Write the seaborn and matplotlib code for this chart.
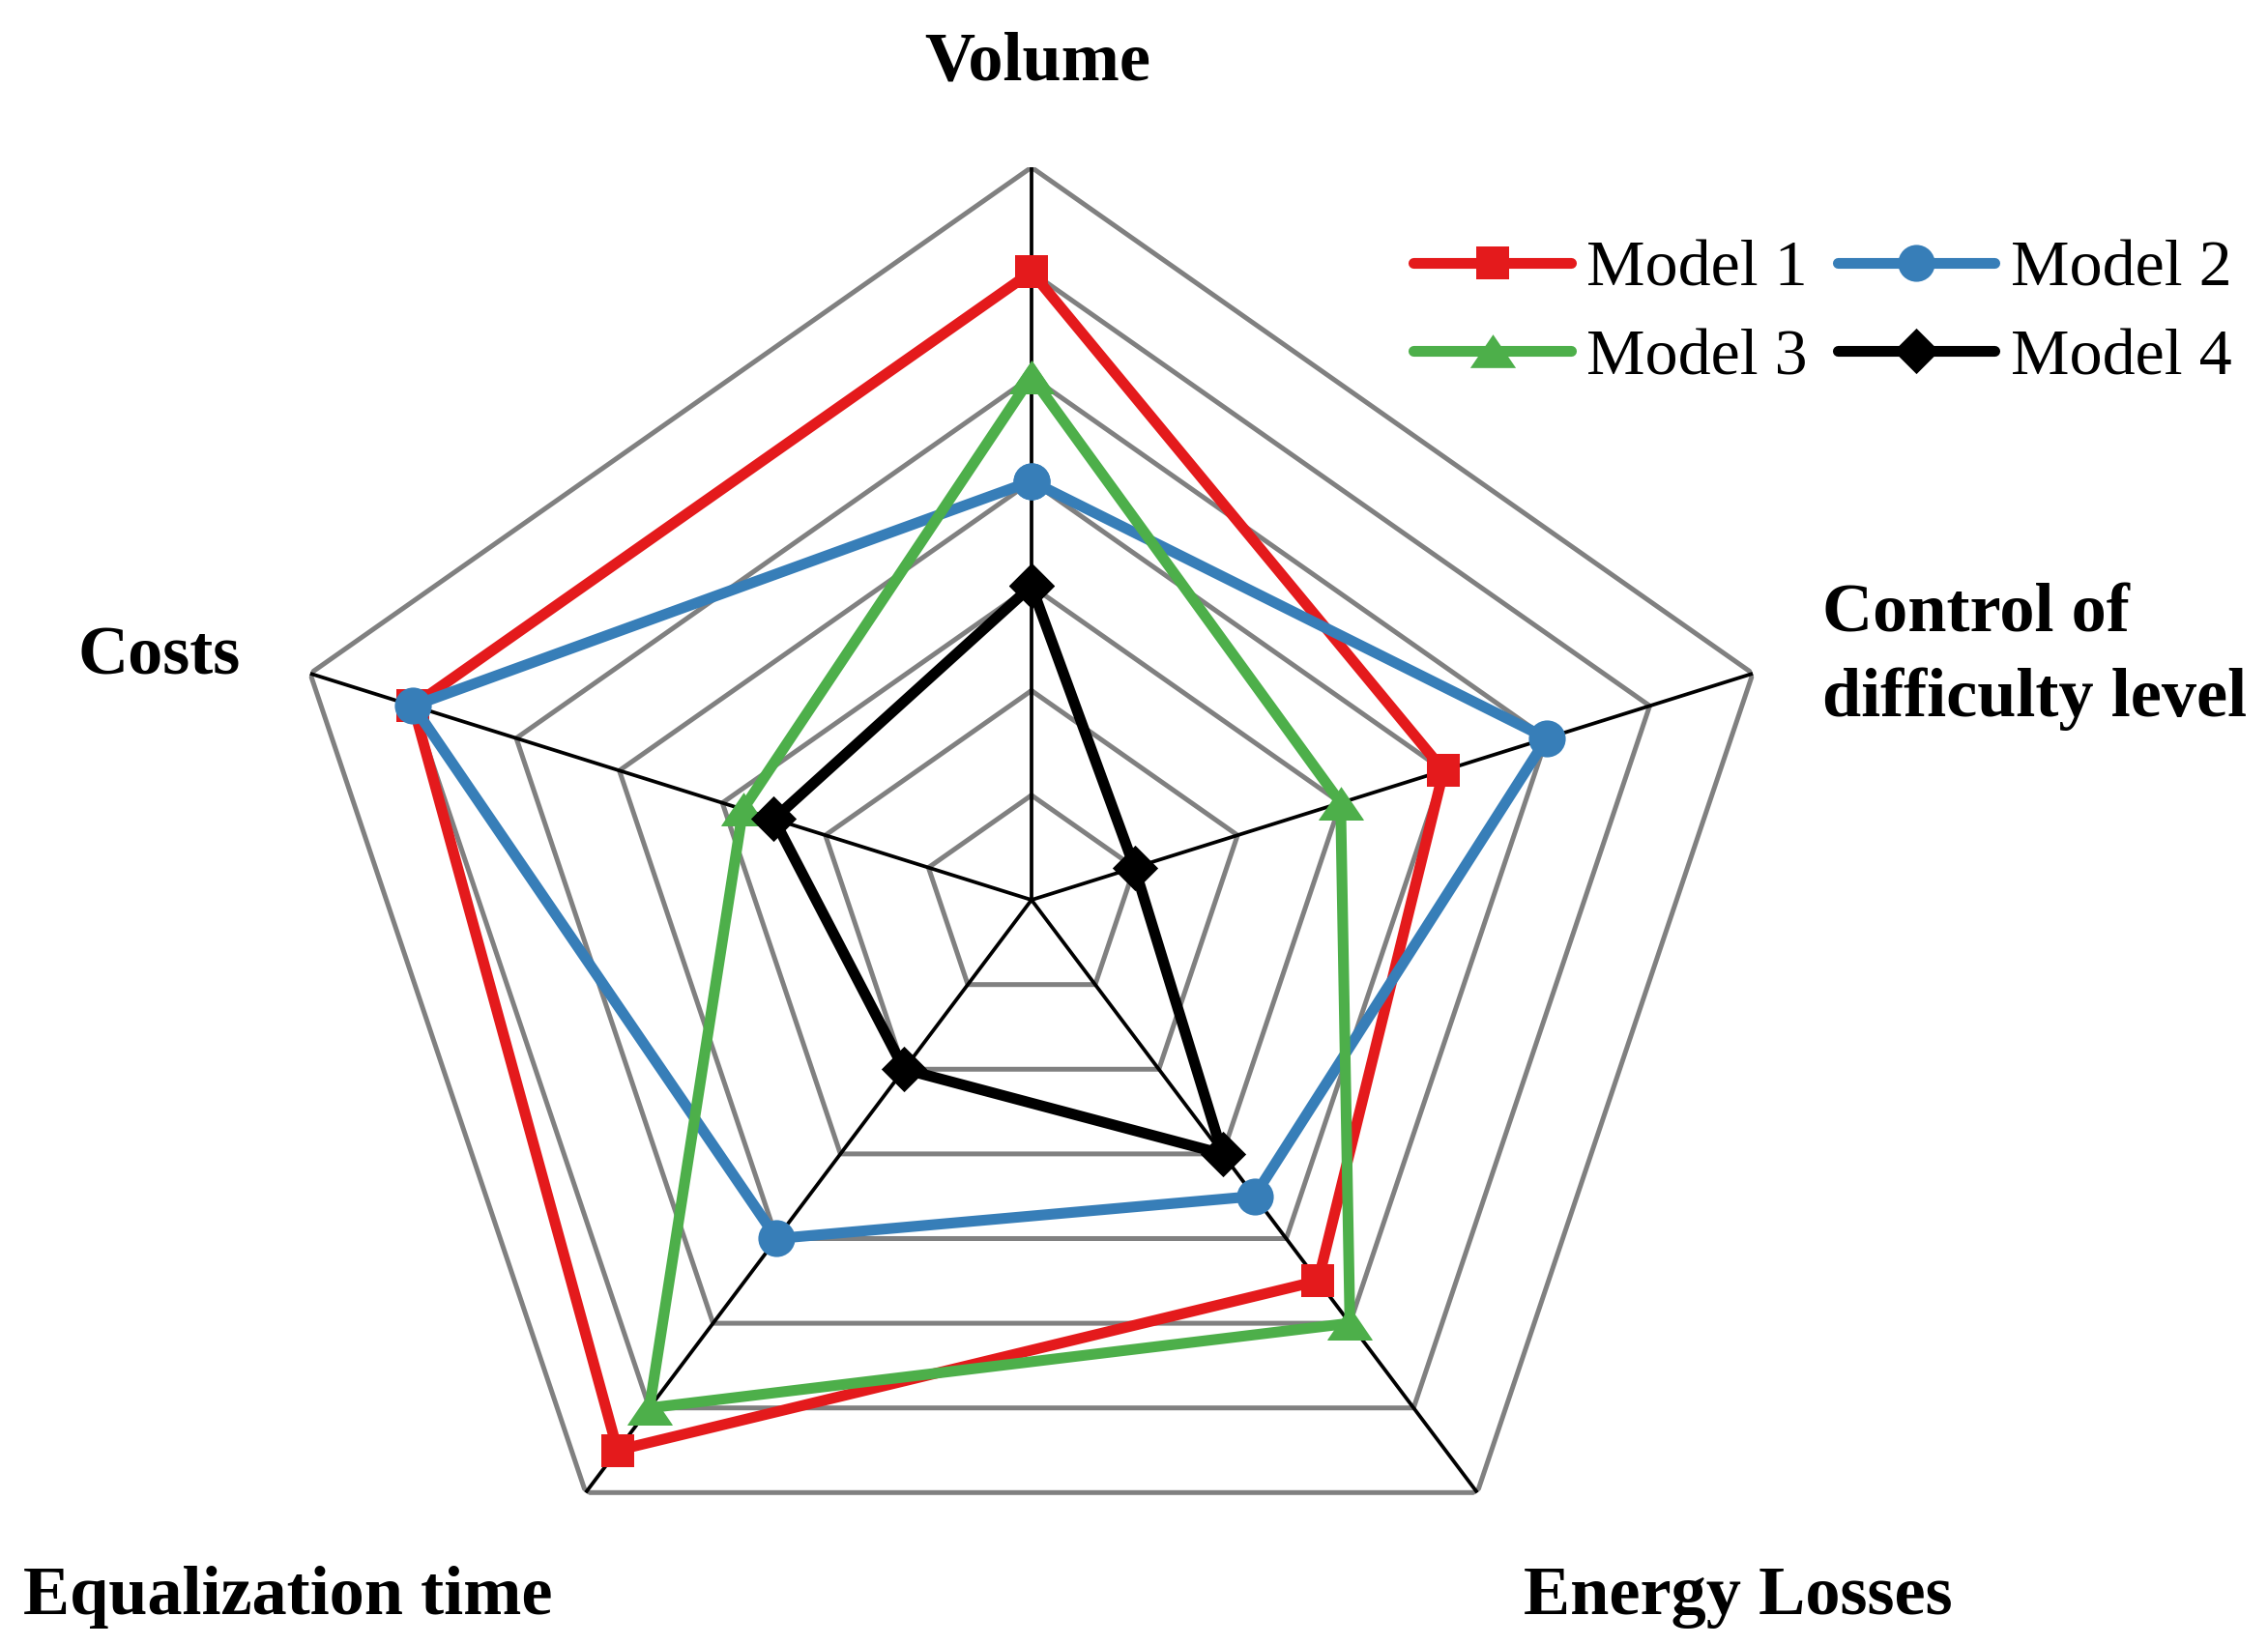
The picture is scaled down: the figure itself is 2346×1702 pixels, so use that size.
import numpy as np
import pandas as pd
import matplotlib
matplotlib.use("Agg")
import matplotlib.pyplot as plt
import seaborn as sns

# ---------------- data ----------------
categories = ["Volume", "Control of difficulty level", "Energy Losses",
              "Equalization time", "Costs"]
models = ["Model 1", "Model 2", "Model 3", "Model 4"]
model1 = [6, 4, 4.5, 6.5, 6]
model2 = [4, 5, 3.5, 4, 6]
model3 = [5, 3, 5, 6, 2.8]
model4 = [3, 1, 3, 2, 2.5]
grid_levels = [1, 2, 3, 4, 5, 6, 7]

series = [model1, model2, model3, model4]
colors = ["#E41A1C", "#377EB8", "#4DAF4A", "#000000"]
tri = [(-22.5, -16.5), (22.5, -16.5), (0, 16.5)]
dia = [(0, 1), (1, 0), (0, -1), (-1, 0)]
markers = ["s", "o", tri, dia]
msizes = [25, 27.5, 34, 34]

sns.set_theme(style="white")
plt.rcParams['font.family'] = ['Liberation Serif', 'DejaVu Serif']
plt.rcParams['text.color'] = 'black'

fig = plt.figure(figsize=(23.46, 17.02), dpi=100)
ax = fig.add_axes([0.1204, 0.0076, 0.6688, 0.8907], projection='polar')
ax.set_aspect('auto')
ax.set_theta_offset(np.pi / 2)
ax.set_theta_direction(-1)

n = len(categories)
theta = np.linspace(0, 2 * np.pi, n, endpoint=False)
theta_closed = np.append(theta, theta[0] + 2 * np.pi)

# grid rings
for lvl in grid_levels:
    ax.plot(theta_closed, [lvl] * (n + 1), color="#808080", lw=3.6, zorder=1,
            solid_joinstyle="miter")
# spokes
for t in theta:
    ax.plot([t, t], [0, grid_levels[-1]], color="black", lw=2.7, zorder=2)

# data
for i, (name, vals) in enumerate(zip(models, series)):
    df = pd.DataFrame({"theta": theta_closed, "r": list(vals) + [vals[0]]})
    sns.lineplot(data=df, x="theta", y="r", ax=ax, sort=False, estimator=None,
                 color=colors[i], lw=8, marker=markers[i], markersize=msizes[i],
                 markeredgewidth=0, markeredgecolor=colors[i],
                 label=name, legend=False, zorder=3 + i)

ax.set_ylim(0, grid_levels[-1])
ax.grid(False)
ax.set_xticks([])
ax.set_yticks([])
ax.set_xlabel("")
ax.set_ylabel("")
ax.spines["polar"].set_visible(False)
ax.patch.set_alpha(0)

handles, labels = ax.get_legend_handles_labels()
order = [0, 2, 1, 3]
fig.legend([handles[k] for k in order], [labels[k] for k in order],
           loc="upper left", bbox_to_anchor=(0.6233, 0.8544), ncol=2,
           frameon=False, fontsize=49, handlelength=2.39, handletextpad=0.24,
           columnspacing=0.45, labelspacing=0.44, borderpad=0, borderaxespad=0,
           labelcolor="black")

lab = dict(fontsize=52, fontweight="bold", color="black")
fig.text(1073 / 2346, 1 - 82 / 1702, "Volume", ha="center", va="baseline", **lab)
fig.text(81 / 2346, 1 - 698 / 1702, "Costs", ha="left", va="baseline", **lab)
fig.text(1885 / 2346, 1 - 653 / 1702, "Control of", ha="left", va="baseline", **lab)
fig.text(1885 / 2346, 1 - 741 / 1702, "difficulty level", ha="left", va="baseline", **lab)
fig.text(24 / 2346, 1 - 1670 / 1702, "Equalization time", ha="left", va="baseline", **lab)
fig.text(1576 / 2346, 1 - 1670 / 1702, "Energy Losses", ha="left", va="baseline", **lab)

fig.savefig("out.png", dpi=100)
